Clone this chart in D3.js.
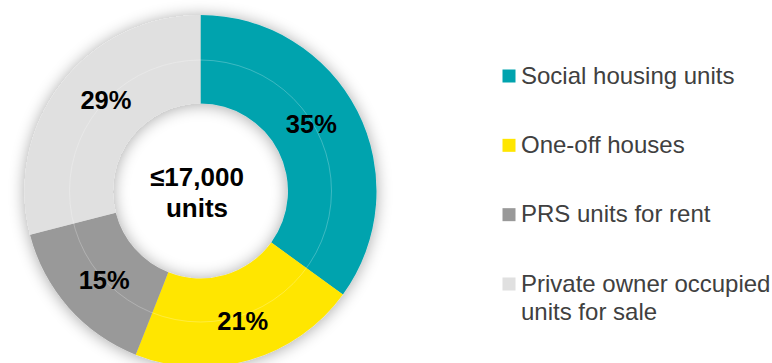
<!DOCTYPE html>
<html>
<head>
<meta charset="utf-8">
<script src="https://cdn.jsdelivr.net/npm/d3@7/dist/d3.min.js"></script>
<style>
  html, body { margin: 0; padding: 0; background: #ffffff; }
  svg { display: block; }
  text { font-family: "Liberation Sans", Arial, Helvetica, sans-serif; }
</style>
</head>
<body>
<svg id="chart" width="772" height="363"></svg>
<script>
// Housing delivery mix
const categories = ["Social housing units", "One-off houses", "PRS units for rent", "Private owner occupied units for sale"];
const shares = [35, 21, 15, 29];
const sliceColors = ["#00A3AE", "#FFE600", "#999999", "#E0E0E0"];
const legendLines = [["Social housing units"], ["One-off houses"], ["PRS units for rent"], ["Private owner occupied", "units for sale"]];
const centerLines = ["\u226417,000", "units"];

const svg = d3.select("#chart");
const cx = 200.5, cy = 191;
const rInner = 87.5, rOuter = 176, rSplit = 131;
// small hand placement tweaks for the percentage labels, in px
const labelNudge = [[-6.5, -7], [5.5, 4], [2.5, 2], [9.5, -10]];

// soft shadow around the ring
const defs = svg.append("defs");
const f = defs.append("filter").attr("id", "ringShadow")
  .attr("x", "-30%").attr("y", "-30%").attr("width", "160%").attr("height", "160%");
f.append("feGaussianBlur").attr("in", "SourceAlpha").attr("stdDeviation", 8).attr("result", "blur");
f.append("feOffset").attr("in", "blur").attr("dx", 0).attr("dy", 1).attr("result", "off");
f.append("feComponentTransfer").attr("in", "off").attr("result", "shadow")
  .append("feFuncA").attr("type", "linear").attr("slope", 0.35);
const merge = f.append("feMerge");
merge.append("feMergeNode").attr("in", "shadow");
merge.append("feMergeNode").attr("in", "SourceGraphic");

const pie = d3.pie().sort(null).value(d => d).startAngle(0).endAngle(2 * Math.PI);
const arcs = pie(shares);
const arc = d3.arc().innerRadius(rInner).outerRadius(rOuter);
const labelArc = d3.arc().innerRadius((rInner + rOuter) / 2).outerRadius((rInner + rOuter) / 2);

const g = svg.append("g").attr("transform", `translate(${cx},${cy})`);
const ring = g.append("g").attr("filter", "url(#ringShadow)");
ring.selectAll("path.slice")
  .data(arcs)
  .join("path")
  .attr("class", "slice")
  .attr("d", arc)
  .attr("fill", (d, i) => sliceColors[i]);

// faint seam between inner and outer bands
g.append("circle")
  .attr("r", rSplit)
  .attr("fill", "none")
  .attr("stroke", "#ffffff")
  .attr("stroke-opacity", 0.3)
  .attr("stroke-width", 0.8);

// percentage labels
g.selectAll("text.pct")
  .data(arcs)
  .join("text")
  .attr("class", "pct")
  .attr("transform", (d, i) => {
    const [x, y] = labelArc.centroid(d);
    return `translate(${x + labelNudge[i][0]},${y + labelNudge[i][1]})`;
  })
  .attr("text-anchor", "middle")
  .attr("dy", "0.35em")
  .attr("font-size", 25.5)
  .attr("font-weight", "bold")
  .attr("fill", "#000000")
  .text(d => d.data + "%");

// center total
svg.append("g")
  .selectAll("text")
  .data(centerLines)
  .join("text")
  .attr("x", 197)
  .attr("y", (d, i) => 185.5 + i * 31.5)
  .attr("text-anchor", "middle")
  .attr("font-size", 26)
  .attr("font-weight", "bold")
  .attr("fill", "#000000")
  .text(d => d);

// legend
const legendY = d3.scalePoint().domain(categories).range([83.5, 291.5]);
const legend = svg.append("g");
const items = legend.selectAll("g.item")
  .data(categories)
  .join("g")
  .attr("class", "item")
  .attr("transform", d => `translate(0,${legendY(d)})`);
items.append("rect")
  .attr("x", 502.5)
  .attr("y", -14)
  .attr("width", 13)
  .attr("height", 13)
  .attr("fill", (d, i) => sliceColors[i]);
items.append("text")
  .attr("x", 521)
  .attr("y", 0)
  .attr("font-size", 24)
  .attr("fill", "#404040")
  .selectAll("tspan")
  .data((d, i) => legendLines[i])
  .join("tspan")
  .attr("x", 521)
  .attr("dy", (d, j) => j === 0 ? 0 : 28)
  .text(d => d);
</script>
</body>
</html>
